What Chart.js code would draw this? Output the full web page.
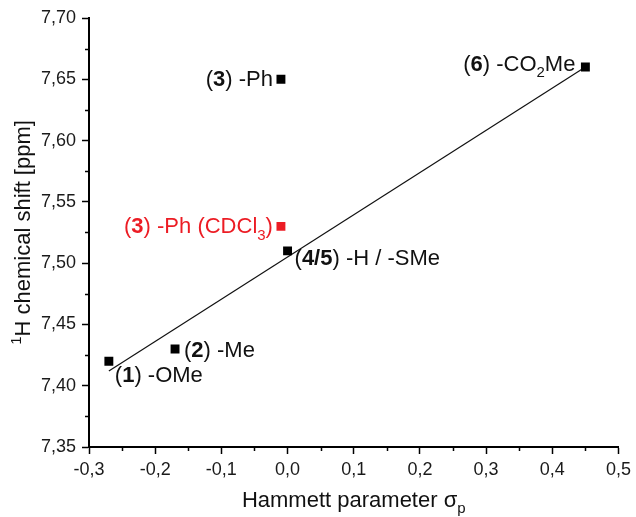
<!DOCTYPE html>
<html>
<head>
<meta charset="utf-8">
<script src="https://cdn.jsdelivr.net/npm/chart.js@4"></script>
<style>
  html, body { margin: 0; padding: 0; background: #fff; }
  #wrap { width: 636px; height: 517px; }
</style>
</head>
<body>
<div id="wrap"><canvas id="myChart"></canvas></div>
<script>
// Hammett parameter vs 1H chemical shift
var sigma = [-0.27, -0.17, 0.00, -0.01, 0.45];
var shift = [7.42, 7.43, 7.51, 7.65, 7.66];
var names = ['(**1**) -OMe', '(**2**) -Me', '(**4/5**) -H / -SMe', '(**3**) -Ph', '(**6**) -CO_2_Me'];

var cdcl3Sigma = [-0.01];
var cdcl3Shift = [7.53];
var cdcl3Names = ['(**3**) -Ph (CDCl_3_)'];

// linear fit, end points
var fitSigma = [-0.27, 0.45];
var fitShift = [7.412, 7.66];

var xTicks = [-0.3, -0.2, -0.1, 0.0, 0.1, 0.2, 0.3, 0.4, 0.5];
var xTickLabels = ['-0,3', '-0,2', '-0,1', '0,0', '0,1', '0,2', '0,3', '0,4', '0,5'];
var xMinor = [-0.25, -0.15, -0.05, 0.05, 0.15, 0.25, 0.35, 0.45];
var yTicks = [7.35, 7.40, 7.45, 7.50, 7.55, 7.60, 7.65, 7.70];
var yTickLabels = ['7,35', '7,40', '7,45', '7,50', '7,55', '7,60', '7,65', '7,70'];
var yMinor = [7.375, 7.425, 7.475, 7.525, 7.575, 7.625, 7.675];

var FONT = "'Liberation Sans', Arial, sans-serif";
var RED = '#ec1c24';
var TXT = 22;

// label placement (pixel offset from the marker, text alignment)
var labelPos = [
  { dx: 6, dy: 21, align: 'left' },
  { dx: 9, dy: 8, align: 'left' },
  { dx: 7, dy: 14, align: 'left' },
  { dx: -8, dy: 7, align: 'right' },
  { dx: -10, dy: 4, align: 'right' }
];
var cdcl3Pos = [{ dx: -8, dy: 7, align: 'right' }];

function parseRich(str) {
  var parts = [];
  str.split(/(\*\*[^*]+\*\*|_[^_]+_|\^[^^]+\^)/).forEach(function (s) {
    if (!s) return;
    if (s.indexOf('**') === 0) parts.push({ t: s.slice(2, -2), bold: true });
    else if (s[0] === '_') parts.push({ t: s.slice(1, -1), sub: true });
    else if (s[0] === '^') parts.push({ t: s.slice(1, -1), sup: true });
    else parts.push({ t: s });
  });
  return parts;
}

function partFont(p, size) {
  var sz = (p.sub || p.sup) ? Math.round(size * 0.68) : size;
  return (p.bold ? 'bold ' : '') + sz + 'px ' + FONT;
}

function drawRich(ctx, str, x, y, align, size, color) {
  var parts = parseRich(str);
  var total = 0;
  parts.forEach(function (p) {
    ctx.font = partFont(p, size);
    p.w = ctx.measureText(p.t).width;
    total += p.w;
  });
  var cx = align === 'right' ? x - total : (align === 'center' ? x - total / 2 : x);
  ctx.fillStyle = color;
  ctx.textBaseline = 'alphabetic';
  ctx.textAlign = 'left';
  parts.forEach(function (p) {
    ctx.font = partFont(p, size);
    var oy = p.sub ? size * 0.28 : (p.sup ? -size * 0.4 : 0);
    ctx.fillText(p.t, cx, y + oy);
    cx += p.w;
  });
}

var extras = {
  id: 'extras',
  afterDraw: function (chart) {
    var ctx = chart.ctx;
    var xs = chart.scales.x, ys = chart.scales.y;
    var area = chart.chartArea;
    ctx.save();
    // minor ticks
    ctx.strokeStyle = '#000';
    ctx.lineWidth = 1.5;
    ctx.beginPath();
    xMinor.forEach(function (v) {
      var px = Math.round(xs.getPixelForValue(v)) + 0.5;
      ctx.moveTo(px, area.bottom);
      ctx.lineTo(px, area.bottom + 4);
    });
    yMinor.forEach(function (v) {
      var py = Math.round(ys.getPixelForValue(v)) + 0.5;
      ctx.moveTo(area.left, py);
      ctx.lineTo(area.left - 4, py);
    });
    ctx.stroke();

    // point labels
    names.forEach(function (n, i) {
      var p = labelPos[i];
      drawRich(ctx, n, xs.getPixelForValue(sigma[i]) + p.dx, ys.getPixelForValue(shift[i]) + p.dy, p.align, TXT, '#111');
    });
    cdcl3Names.forEach(function (n, i) {
      var p = cdcl3Pos[i];
      drawRich(ctx, n, xs.getPixelForValue(cdcl3Sigma[i]) + p.dx, ys.getPixelForValue(cdcl3Shift[i]) + p.dy, p.align, TXT, RED);
    });

    // axis titles
    drawRich(ctx, 'Hammett parameter σ_p_', (area.left + area.right) / 2, 507, 'center', TXT, '#111');
    ctx.translate(30, (area.top + area.bottom) / 2);
    ctx.rotate(-Math.PI / 2);
    drawRich(ctx, '^1^H chemical shift [ppm]', 0, 0, 'center', TXT, '#111');
    ctx.restore();
  }
};

var ctx = document.getElementById('myChart').getContext('2d');
var chart = new Chart(ctx, {
  type: 'scatter',
  data: {
    datasets: [
      {
        label: 'fit',
        type: 'line',
        data: fitSigma.map(function (v, i) { return { x: v, y: fitShift[i] }; }),
        borderColor: '#111',
        borderWidth: 1.2,
        pointRadius: 0,
        fill: false,
        order: 2
      },
      {
        label: 'DMSO',
        data: sigma.map(function (v, i) { return { x: v, y: shift[i] }; }),
        pointStyle: 'rect',
        pointRadius: 6.3,
        backgroundColor: '#000',
        borderWidth: 0,
        order: 1
      },
      {
        label: 'CDCl3',
        data: cdcl3Sigma.map(function (v, i) { return { x: v, y: cdcl3Shift[i] }; }),
        pointStyle: 'rect',
        pointRadius: 6.3,
        backgroundColor: RED,
        borderWidth: 0,
        order: 1
      }
    ]
  },
  options: {
    responsive: true,
    maintainAspectRatio: false,
    animation: false,
    layout: { padding: { top: 18, right: 15, left: 0, bottom: 0 } },
    plugins: { legend: { display: false }, tooltip: { enabled: false } },
    scales: {
      x: {
        type: 'linear',
        position: 'bottom',
        min: -0.3,
        max: 0.5,
        afterBuildTicks: function (s) { s.ticks = xTicks.map(function (v) { return { value: v }; }); },
        afterFit: function (s) { s.height = 70; },
        border: { display: true, color: '#000', width: 2 },
        grid: { drawOnChartArea: false, drawTicks: true, tickLength: 7, tickColor: '#000', tickWidth: 1.5 },
        ticks: {
          autoSkip: false, maxRotation: 0, padding: 5, color: '#1a1a1a',
          font: { family: FONT, size: 18 },
          callback: function (v, i) { return xTickLabels[i]; }
        }
      },
      y: {
        type: 'linear',
        min: 7.35,
        max: 7.70,
        afterBuildTicks: function (s) { s.ticks = yTicks.map(function (v) { return { value: v }; }); },
        afterFit: function (s) { s.width = 89; },
        border: { display: true, color: '#000', width: 2 },
        grid: { drawOnChartArea: false, drawTicks: true, tickLength: 7, tickColor: '#000', tickWidth: 1.5 },
        ticks: {
          autoSkip: false, padding: 6, color: '#1a1a1a',
          font: { family: FONT, size: 18 },
          callback: function (v, i) { return yTickLabels[i]; }
        }
      }
    }
  },
  plugins: [extras]
});
</script>
</body>
</html>
